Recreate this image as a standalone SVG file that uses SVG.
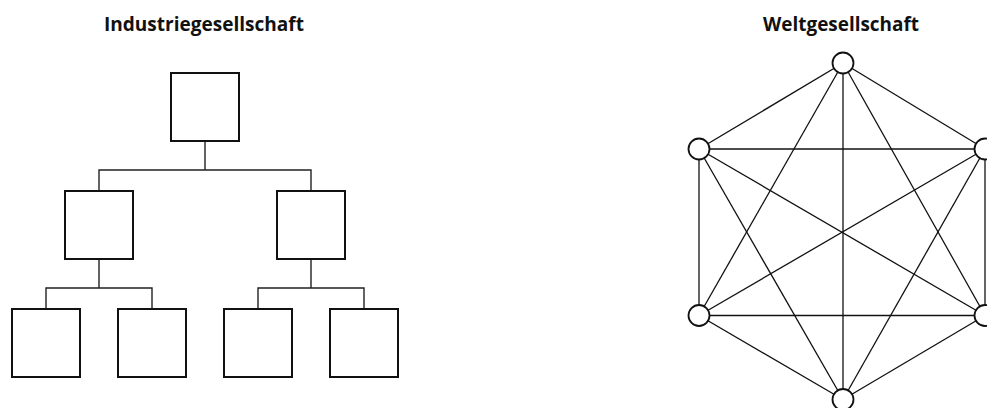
<svg xmlns="http://www.w3.org/2000/svg" width="987" height="408" viewBox="0 0 987 408">
<style>
.title{font-family:"Open Sans","Liberation Sans",Arial,sans-serif;font-weight:bold;font-size:19px;fill:#111;text-anchor:middle}
.box{fill:#fff;stroke:#111;stroke-width:2}
.conn{fill:none;stroke:#222;stroke-width:1.4}
.edge{stroke:#111;stroke-width:1.3}
.node{fill:#fff;stroke:#111;stroke-width:1.8}
</style>
<rect width="987" height="408" fill="#fff"/>
<text class="title" x="204" y="31" textLength="200" lengthAdjust="spacingAndGlyphs">Industriegesellschaft</text>
<text class="title" x="841" y="31" textLength="156" lengthAdjust="spacingAndGlyphs">Weltgesellschaft</text>
<g id="tree-connectors">
<path class="conn" d="M205,141V170M99,191V170H311V191"/>
<path class="conn" d="M99,259V288M46,309V288H152V309"/>
<path class="conn" d="M311,259V288M258,309V288H364V309"/>
</g>
<g id="box-top"><rect class="box" x="171" y="73" width="68" height="68"/></g>
<g id="box-l"><rect class="box" x="65" y="191" width="68" height="68"/></g>
<g id="box-r"><rect class="box" x="277" y="191" width="68" height="68"/></g>
<g id="box-ll"><rect class="box" x="12" y="309" width="68" height="68"/></g>
<g id="box-lr"><rect class="box" x="118" y="309" width="68" height="68"/></g>
<g id="box-rl"><rect class="box" x="224" y="309" width="68" height="68"/></g>
<g id="box-rr"><rect class="box" x="330" y="309" width="68" height="68"/></g>
<g id="net-edges">
<line class="edge" x1="843" y1="63" x2="699" y2="149"/>
<line class="edge" x1="843" y1="63" x2="985" y2="149"/>
<line class="edge" x1="843" y1="63" x2="699" y2="315.5"/>
<line class="edge" x1="843" y1="63" x2="985" y2="315.5"/>
<line class="edge" x1="843" y1="63" x2="843" y2="399.5"/>
<line class="edge" x1="699" y1="149" x2="985" y2="149"/>
<line class="edge" x1="699" y1="149" x2="699" y2="315.5"/>
<line class="edge" x1="699" y1="149" x2="985" y2="315.5"/>
<line class="edge" x1="699" y1="149" x2="843" y2="399.5"/>
<line class="edge" x1="985" y1="149" x2="699" y2="315.5"/>
<line class="edge" x1="985" y1="149" x2="985" y2="315.5"/>
<line class="edge" x1="985" y1="149" x2="843" y2="399.5"/>
<line class="edge" x1="699" y1="315.5" x2="985" y2="315.5"/>
<line class="edge" x1="699" y1="315.5" x2="843" y2="399.5"/>
<line class="edge" x1="985" y1="315.5" x2="843" y2="399.5"/>
</g>
<g id="n-top"><circle class="node" cx="843" cy="63" r="10.5"/></g>
<g id="n-ul"><circle class="node" cx="699" cy="149" r="10.5"/></g>
<g id="n-ur"><circle class="node" cx="985" cy="149" r="10.5"/></g>
<g id="n-ll"><circle class="node" cx="699" cy="315.5" r="10.5"/></g>
<g id="n-lr"><circle class="node" cx="985" cy="315.5" r="10.5"/></g>
<g id="n-bottom"><circle class="node" cx="843" cy="399.5" r="10.5"/></g>
</svg>
